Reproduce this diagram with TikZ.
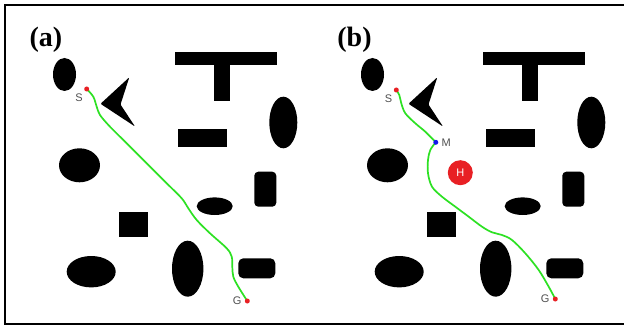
\documentclass[tikz,border=0pt]{standalone}
\usepackage{fontspec}
\setmainfont{Liberation Serif}
\setsansfont{Liberation Sans}
\usetikzlibrary{positioning}
\definecolor{routegreen}{RGB}{45,225,35}
\definecolor{ptred}{RGB}{232,32,36}
\definecolor{ptblue}{RGB}{20,25,235}
\definecolor{lblgray}{RGB}{80,80,80}

% the same obstacle field in both panels
\newcommand{\obstaclefield}{%
  \fill (64.5,74.5) ellipse[x radius=11.5pt,y radius=16.5pt];
  \fill[rounded corners=1pt] (129.3,77.3) -- (100.5,103.8) -- (135,126.5) -- (120.5,104.5) -- cycle;
  \fill (175,51.7) rectangle (277,65);
  \fill (214.3,64) rectangle (230,100.7);
  \fill (177.7,129) rectangle (226.7,147.3);
  \fill (283.3,122.5) ellipse[x radius=14pt,y radius=25.8pt];
  \fill (79.5,165.3) ellipse[x radius=20.5pt,y radius=17pt];
  \fill[rounded corners=4pt] (254.3,171.7) rectangle (276.3,206.7);
  \fill (214.7,206.2) ellipse[x radius=18pt,y radius=8.8pt];
  \fill (119.3,211.7) rectangle (148.3,236.7);
  \fill (91.2,271.7) ellipse[x radius=24.5pt,y radius=15.7pt];
  \fill (187.7,268.7) ellipse[x radius=15.7pt,y radius=28pt];
  \fill[rounded corners=5pt] (238.3,258.3) rectangle (275.3,278.3);
}

\begin{document}
\begin{tikzpicture}[x=1pt,y=-1pt,
    route/.style={draw=routegreen,line width=1.7pt,line cap=round,line join=round},
    ptdot/.style={circle,fill=#1,inner sep=0pt,minimum size=5pt},
    ptlabel/.style={font=\sffamily\fontsize{11}{11}\selectfont,text=lblgray,inner sep=0pt},
    panel/.style={font=\bfseries\fontsize{28}{28}\selectfont,inner sep=0pt}]
  \useasboundingbox (0,0) rectangle (624,326);
  \fill[white] (0,0) rectangle (624,326);
  \draw[line width=2pt] (624,5) -- (4.5,5) -- (4.5,324) -- (624,324);

  % (a) straight route
  \begin{scope}
    \node[panel] (taga) at (46,40) {(a)};
    \obstaclefield
    \coordinate (sa) at (86.7,89);
    \coordinate (ga) at (247.3,301);
    \draw[route] plot[smooth,tension=0.55] coordinates {(sa) (93.3,96.7) (96.7,106.7)
      (100,115) (110,126.7) (126.7,143.3) (146.7,163.3) (166.7,183.3) (181.7,198.3)
      (188.3,208.3) (196.7,220) (210,233.3) (226.7,248.3) (231.7,256.7) (232.3,266.7)
      (233.3,276.7) (238.3,286.7) (ga)};
    \node[ptdot=ptred] (sdota) at (sa) {};
    \node[ptdot=ptred] (gdota) at (ga) {};
    \node[ptlabel,below left=3pt and 2pt of sdota] {S};
    \node[ptlabel,left=3pt of gdota] {G};
  \end{scope}

  % (b) route via M, avoiding H
  \begin{scope}[xshift=308pt]
    \node[panel] (tagb) at (46.5,40) {(b)};
    \obstaclefield
    \coordinate (sb) at (88.3,90);
    \coordinate (mb) at (127.8,142.3);
    \coordinate (gb) at (247.3,299);
    \node[circle,fill=ptred,minimum size=25pt,inner sep=0pt,text=white,
      font=\sffamily\fontsize{11}{11}\selectfont] (hb) at (152.3,172.7) {H};
    \draw[route] plot[smooth,tension=0.55] coordinates {(sb) (91.3,95) (93.3,103.3)
      (97.3,113.3) (107.3,123.3) (117.3,131.7) (mb)};
    \draw[route] plot[smooth,tension=0.55] coordinates {(mb) (122.3,150) (120,160)
      (120,173.3) (124,186.7) (134,196.7) (147.3,206.7) (160.7,216.7) (174,226.7)
      (184,232.3) (194,235) (204,240) (217.3,253.3) (230.7,270) (240.7,286.7) (gb)};
    \node[ptdot=ptred] (sdotb) at (sb) {};
    \node[ptdot=ptblue] (mdotb) at (mb) {};
    \node[ptdot=ptred] (gdotb) at (gb) {};
    \node[ptlabel,below left=3pt and 2pt of sdotb] {S};
    \node[ptlabel,right=3pt of mdotb] {M};
    \node[ptlabel,left=3pt of gdotb] {G};
  \end{scope}
\end{tikzpicture}
\end{document}
